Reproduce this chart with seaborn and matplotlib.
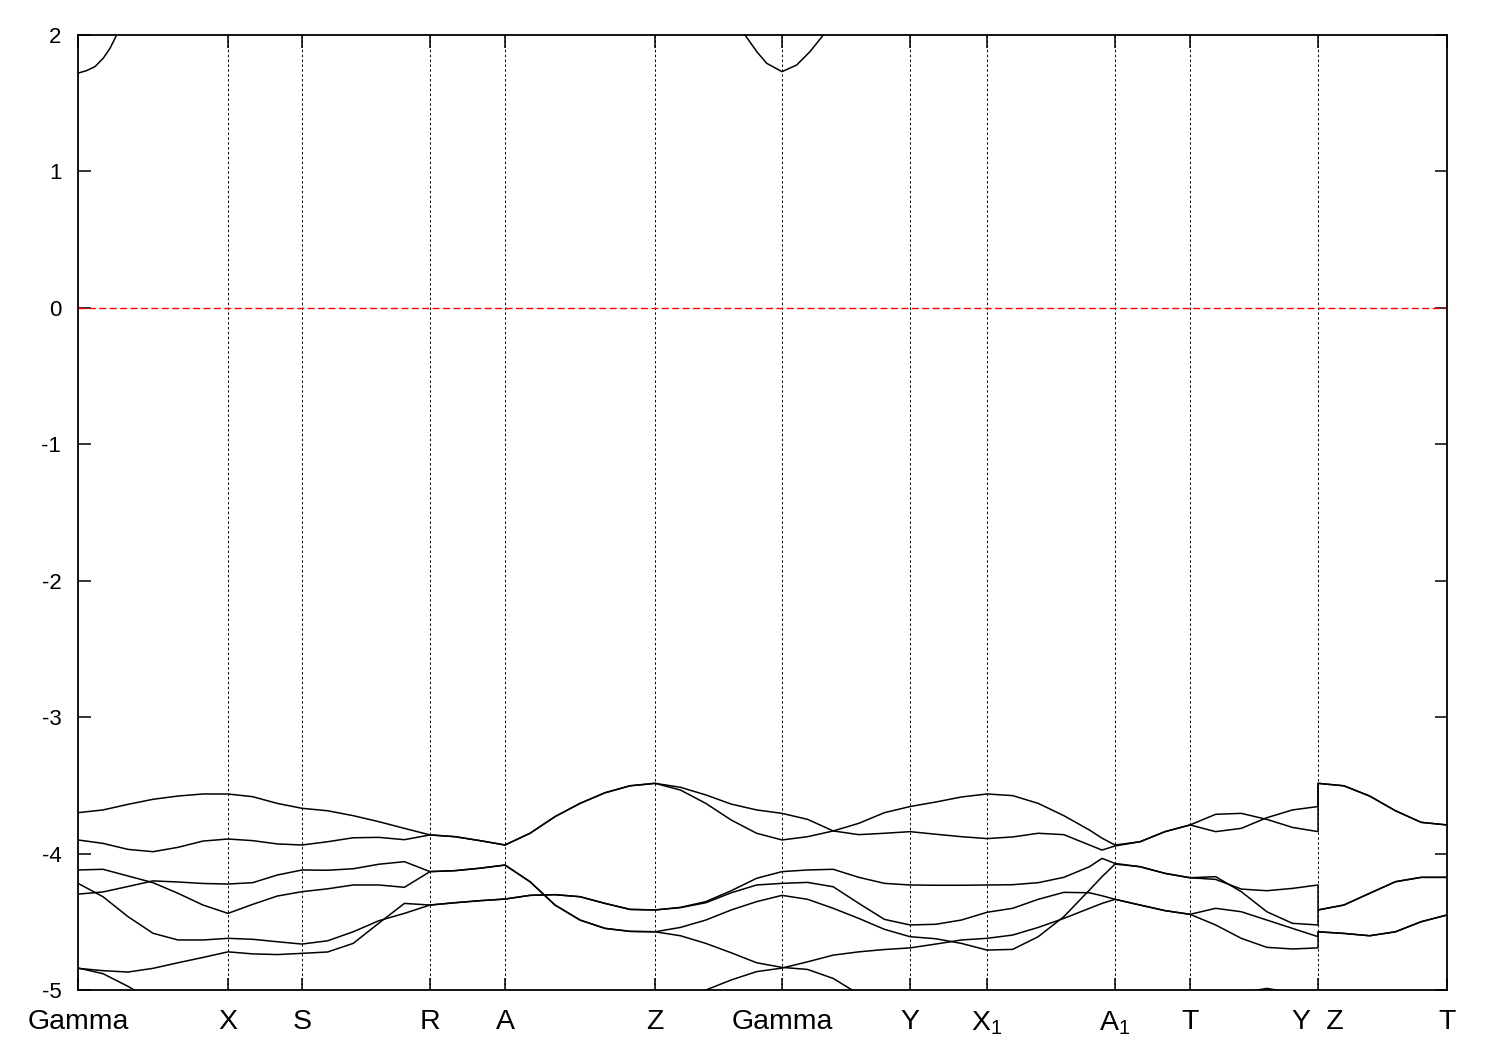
import numpy as np
import pandas as pd
import matplotlib
matplotlib.use("Agg")
import matplotlib.pyplot as plt
import seaborn as sns

# ---------------- data ----------------
# high-symmetry points (path distance) and their labels
tick_k = [0.00, 1.50, 2.24, 3.52, 4.27, 5.77, 7.04, 8.32, 9.09, 10.37, 11.12, 12.40, 13.69]
tick_labels = ["Gamma", "X", "S", "R", "A", "Z", "Gamma", "Y", r"X$_1$", r"A$_1$", "T", "Y  Z", "T"]

# common k grid (Y|Z break is repeated)
kpath = [0.00, 0.25, 0.50, 0.75, 1.00, 1.25, 1.50,
         1.747, 1.993, 2.24,
         2.496, 2.752, 3.008, 3.264, 3.52,
         3.77, 4.02, 4.27,
         4.52, 4.77, 5.02, 5.27, 5.52, 5.77,
         6.024, 6.278, 6.532, 6.786, 7.04,
         7.296, 7.552, 7.808, 8.064, 8.32,
         8.577, 8.833, 9.09,
         9.346, 9.602, 9.858, 10.114, 10.24, 10.37,
         10.62, 10.87, 11.12,
         11.376, 11.632, 11.888, 12.144, 12.40,
         12.40, 12.658, 12.916, 13.174, 13.432, 13.69]

band1 = [-3.700, -3.680, -3.639, -3.602, -3.578, -3.563, -3.563,
         -3.583, -3.632, -3.668,
         -3.686, -3.722, -3.766, -3.815, -3.863,
         -3.876, -3.905, -3.937,
         -3.851, -3.729, -3.632, -3.554, -3.503, -3.485,
         -3.514, -3.570, -3.637, -3.680, -3.705,
         -3.749, -3.834, -3.861, -3.851, -3.839,
         -3.858, -3.876, -3.890,
         -3.878, -3.851, -3.861, -3.937, -3.974, -3.944,
         -3.913, -3.839, -3.790,
         -3.712, -3.705, -3.749, -3.808, -3.839,
         -3.485, -3.503, -3.578, -3.686, -3.771, -3.790]

band2 = [-3.900, -3.925, -3.969, -3.986, -3.954, -3.908, -3.893,
         -3.905, -3.929, -3.937,
         -3.913, -3.884, -3.881, -3.898, -3.863,
         -3.876, -3.905, -3.937,
         -3.851, -3.729, -3.632, -3.554, -3.503, -3.485,
         -3.534, -3.632, -3.754, -3.851, -3.900,
         -3.876, -3.834, -3.778, -3.700, -3.655,
         -3.622, -3.585, -3.563,
         -3.575, -3.632, -3.722, -3.827, -3.887, -3.937,
         -3.913, -3.839, -3.790,
         -3.839, -3.815, -3.737, -3.680, -3.655,
         -3.485, -3.503, -3.578, -3.686, -3.771, -3.790]

band3 = [-4.120, -4.115, -4.164, -4.213, -4.291, -4.377, -4.438,
         -4.372, -4.311, -4.279,
         -4.258, -4.230, -4.230, -4.247, -4.132,
         -4.125, -4.107, -4.084,
         -4.206, -4.377, -4.487, -4.548, -4.570, -4.573,
         -4.541, -4.487, -4.413, -4.352, -4.306,
         -4.335, -4.401, -4.475, -4.555, -4.609,
         -4.624, -4.658, -4.707,
         -4.702, -4.609, -4.462, -4.267, -4.169, -4.077,
         -4.096, -4.145, -4.177,
         -4.169, -4.279, -4.426, -4.511, -4.523,
         -4.413, -4.377, -4.291, -4.206, -4.174, -4.174]

band4 = [-4.297, -4.281, -4.241, -4.200, -4.208, -4.219, -4.223,
         -4.213, -4.157, -4.120,
         -4.122, -4.111, -4.078, -4.059, -4.132,
         -4.125, -4.107, -4.084,
         -4.206, -4.377, -4.487, -4.548, -4.570, -4.573,
         -4.602, -4.658, -4.727, -4.800, -4.834,
         -4.849, -4.915, -5.030, -5.150, -5.250,
         -5.300, -5.350, -5.400,
         -5.400, -5.400, -5.400, -5.400, -5.400, -5.400,
         -5.350, -5.250, -5.150,
         -5.070, -5.020, -4.988, -5.020, -5.100,
         -5.200, -5.200, -5.250, -5.300, -5.300, -5.300]

band5 = [-4.218, -4.316, -4.462, -4.584, -4.633, -4.633, -4.621,
         -4.628, -4.646, -4.663,
         -4.639, -4.573, -4.492, -4.438, -4.377,
         -4.360, -4.345, -4.333,
         -4.306, -4.301, -4.316, -4.365, -4.409, -4.413,
         -4.394, -4.352, -4.272, -4.181, -4.132,
         -4.120, -4.115, -4.174, -4.218, -4.230,
         -4.232, -4.232, -4.230,
         -4.228, -4.213, -4.174, -4.096, -4.035, -4.072,
         -4.096, -4.145, -4.177,
         -4.189, -4.260, -4.272, -4.255, -4.230,
         -4.413, -4.377, -4.291, -4.206, -4.174, -4.174]

band6 = [-4.841, -4.858, -4.868, -4.841, -4.800, -4.761, -4.720,
         -4.735, -4.740, -4.731,
         -4.721, -4.658, -4.510, -4.365, -4.377,
         -4.360, -4.345, -4.333,
         -4.306, -4.301, -4.316, -4.365, -4.409, -4.413,
         -4.396, -4.360, -4.287, -4.230, -4.218,
         -4.211, -4.243, -4.365, -4.482, -4.523,
         -4.518, -4.487, -4.430,
         -4.401, -4.335, -4.284, -4.287, -4.309, -4.335,
         -4.377, -4.418, -4.445,
         -4.401, -4.426, -4.487, -4.548, -4.609,
         -4.573, -4.585, -4.602, -4.573, -4.499, -4.450]

band7 = [-4.838, -4.880, -4.973, -5.080, -5.200, -5.300, -5.350,
         -5.400, -5.400, -5.400,
         -5.400, -5.400, -5.400, -5.400, -5.400,
         -5.400, -5.400, -5.400,
         -5.400, -5.400, -5.400, -5.350, -5.300, -5.250,
         -5.120, -5.000, -4.926, -4.865, -4.839,
         -4.793, -4.744, -4.720, -4.703, -4.691,
         -4.663, -4.633, -4.621,
         -4.597, -4.541, -4.475, -4.401, -4.365, -4.335,
         -4.377, -4.418, -4.445,
         -4.523, -4.621, -4.687, -4.699, -4.691,
         -4.573, -4.585, -4.602, -4.573, -4.499, -4.450]

# conduction band, visible only around the two Gamma points
cond1_k = [0.00, 0.087, 0.17, 0.253, 0.32, 0.387, 0.46]
cond1_E = [1.72, 1.739, 1.768, 1.830, 1.902, 2.00, 2.15]
cond2_k = [6.60, 6.67, 6.787, 6.887, 7.04, 7.187, 7.32, 7.453, 7.52]
cond2_E = [2.10, 2.00, 1.878, 1.792, 1.731, 1.780, 1.878, 2.00, 2.10]

# ---------------- build table ----------------
frames = []
for name, E in [("v1", band1), ("v2", band2), ("v3", band3), ("v4", band4),
                ("v5", band5), ("v6", band6), ("v7", band7)]:
    frames.append(pd.DataFrame({"k": kpath, "E": E, "band": name}))
frames.append(pd.DataFrame({"k": cond1_k, "E": cond1_E, "band": "c1"}))
frames.append(pd.DataFrame({"k": cond2_k, "E": cond2_E, "band": "c2"}))
df = pd.concat(frames, ignore_index=True)

# ---------------- plot ----------------
sns.set_style("ticks")
plt.rcParams["font.family"] = ["Liberation Sans", "DejaVu Sans"]
plt.rcParams["mathtext.default"] = "regular"
plt.rcParams["axes.unicode_minus"] = False

fig = plt.figure(figsize=(15, 10.5), dpi=100)
ax = fig.add_axes([0.052, 0.0571, 0.9127, 0.9096])

for kv in tick_k[1:-1]:
    ax.axvline(kv, color="black", lw=0.7, ls=(0, (2.5, 2.5)), zorder=1)
ax.axhline(0, color="#ff0000", lw=1.0, ls=(0, (5, 2.5)), zorder=1)

sns.lineplot(data=df, x="k", y="E", units="band", estimator=None, sort=False,
             color="black", lw=1.1, legend=False, ax=ax, zorder=3)

ax.set_xlim(tick_k[0], tick_k[-1])
ax.set_ylim(-5, 2)
ax.set_xticks(tick_k)
ax.set_xticklabels(tick_labels)
ax.set_yticks(range(-5, 3))
ax.set_yticklabels([str(v) for v in range(-5, 3)])
ax.set_xlabel("")
ax.set_ylabel("")
ax.tick_params(direction="in", length=9, width=1.1, top=True, right=True,
               colors="black")
ax.tick_params(axis="x", pad=14, labelsize=20.5)
ax.tick_params(axis="y", pad=12, labelsize=16)
for s in ax.spines.values():
    s.set_linewidth(1.3)
    s.set_color("black")

fig.savefig("out.png", dpi=100)
